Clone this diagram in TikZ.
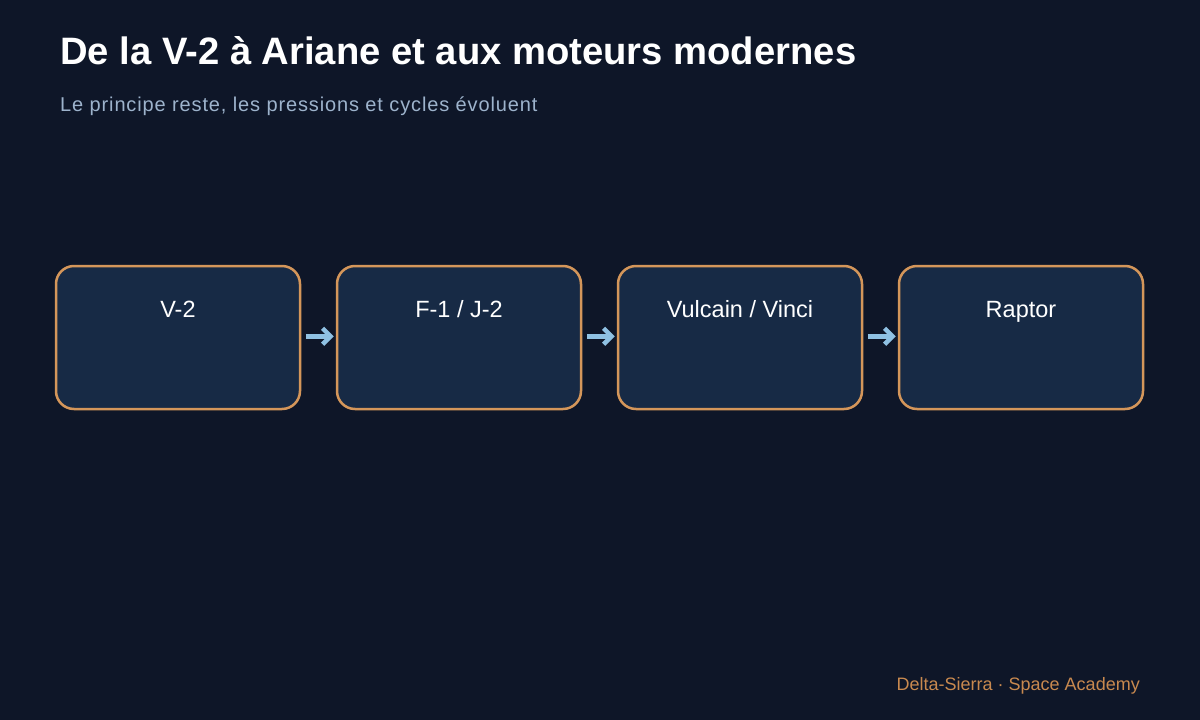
\documentclass[tikz,border=0pt]{standalone}
\usepackage{fontspec}
\setmainfont{Liberation Sans}
\usetikzlibrary{arrows.meta}
\definecolor{pagebg}{HTML}{0E1628}
\definecolor{cellfill}{HTML}{172A45}
\definecolor{cellline}{HTML}{D4965A}
\definecolor{flowarrow}{HTML}{8FC1E3}
\definecolor{subtext}{HTML}{9DB3CC}
\definecolor{brandtext}{HTML}{C8894F}
\tikzset{
  enginebox/.style={draw=cellline, fill=cellfill, line width=2.5pt, rounded corners=18pt,
    minimum width=244pt, minimum height=143pt, inner sep=0pt},
  enginelabel/.style={anchor=base, text=white, font=\fontsize{23.5}{28}\selectfont},
  flow/.style={draw=flowarrow, line width=4.5pt, -{Straight Barb[length=8pt,width=16pt]},
    shorten <=4.5pt, shorten >=2pt}
}
\begin{document}
\begin{tikzpicture}[x=1pt, y=-1pt]
% Set the page size (1px = 1pt)
\def\cellstep{281} % distance between box centres
\fill[pagebg] (0,0) rectangle (1200,720);
\useasboundingbox (0,0) rectangle (1200,720);

% Title and subtitle
\node[anchor=base west, inner sep=0pt, text=white, font=\bfseries\fontsize{38.2}{44}\selectfont] (title) at (60,64) {De la V-2 à Ariane et aux moteurs modernes};
\node[anchor=base west, inner sep=0pt, text=subtext, font=\addfontfeature{LetterSpace=4.3}\fontsize{20}{24}\selectfont] (subtitle) at (60,111.5) {Le principe reste, les pressions et cycles évoluent};

% Draw the boxes and insert the names
\node[enginebox] (v2) at (178,337.5) {};
\node[enginelabel] (v2l) at ([yshift=-52.5pt]v2.north) {V-2};
\node[enginebox] (f1) at (178+\cellstep,337.5) {};
\node[enginelabel] (f1l) at ([yshift=-52.5pt]f1.north) {F-1 / J-2};
\node[enginebox] (vulcain) at (178+2*\cellstep,337.5) {};
\node[enginelabel] (vulcainl) at ([yshift=-52.5pt]vulcain.north) {Vulcain / Vinci};
\node[enginebox] (raptor) at (178+3*\cellstep,337.5) {};
\node[enginelabel] (raptorl) at ([yshift=-52.5pt]raptor.north) {Raptor};

% Arrows between the boxes
\draw[flow] ([yshift=1.2pt]v2.east) -- ([yshift=1.2pt]f1.west);
\draw[flow] ([yshift=1.2pt]f1.east) -- ([yshift=1.2pt]vulcain.west);
\draw[flow] ([yshift=1.2pt]vulcain.east) -- ([yshift=1.2pt]raptor.west);

\node[anchor=base east, inner sep=0pt, text=brandtext, font=\fontsize{18}{22}\selectfont] (brand) at (1140,690) {Delta-Sierra · Space Academy};
\end{tikzpicture}
\end{document}
